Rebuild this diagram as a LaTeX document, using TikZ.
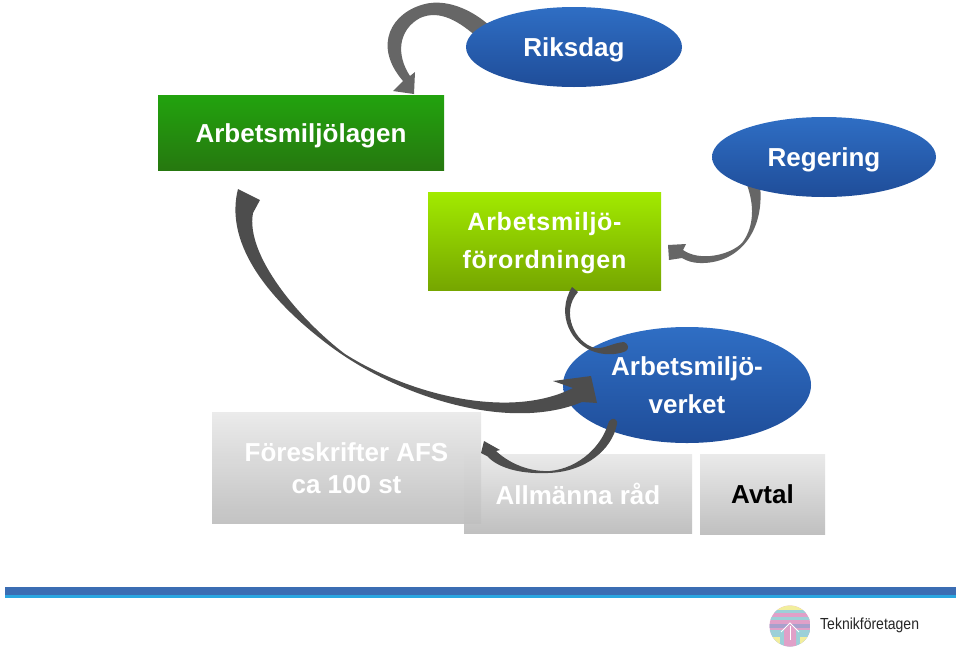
\documentclass[tikz,border=0pt]{standalone}
\usepackage{fontspec}
\setmainfont{Liberation Sans}
\usepackage{xcolor}
\usetikzlibrary{arrows.meta, positioning, shapes.geometric, calc}
\definecolor{arrowgray}{HTML}{666666}
\definecolor{arrowdark}{HTML}{4D4D4D}
\definecolor{ovaltop}{HTML}{2F6EC4}
\definecolor{ovalbottom}{HTML}{1F4D99}
\definecolor{graytop}{HTML}{EAEAEA}
\definecolor{graybottom}{HTML}{C0C0C0}
\definecolor{lagentop}{HTML}{22A30E}
\definecolor{lagenbottom}{HTML}{26780F}
\definecolor{fortop}{HTML}{A2EA00}
\definecolor{forbottom}{HTML}{76A600}
\definecolor{barblue}{HTML}{3B6DB3}
\definecolor{barlight}{HTML}{2BA6E0}
\definecolor{logopink}{HTML}{E0A0C8}
\definecolor{logoblue}{HTML}{9CD0D8}
\definecolor{logoyellow}{HTML}{F2EE9C}
\definecolor{logopurple}{HTML}{A8A0CC}

\begin{document}
\begin{tikzpicture}[
    x=1pt, y=-1pt,
    oval/.style={ellipse, inner sep=0pt, top color=ovaltop, bottom color=ovalbottom},
    greenbox/.style={rectangle, inner sep=0pt},
    graybox/.style={rectangle, inner sep=0pt, top color=graytop, bottom color=graybottom},
    lbl/.style={inner sep=0pt, align=center, text=white, font=\bfseries\fontsize{26}{32}\selectfont},
    crescent/.style={fill=arrowgray, draw=none},
    crescentdark/.style={fill=arrowdark, draw=none},
]

\useasboundingbox (0,0) rectangle (960,648);
\fill[white] (0,0) rectangle (960,648);

% ARROWS BEHIND THE OVALS
\coordinate (riksStart) at (490,26);
\coordinate (lagenTip) at (414,94);
\fill[crescent] (riksStart) .. controls (470,8) and (445,-1) .. (425,4)
    .. controls (392,12) and (372,45) .. (403,81)
    -- (393,91) -- (lagenTip) -- (415,72) -- (410,76)
    .. controls (396,55) and (398,30) .. (420,18)
    .. controls (440,9) and (460,22) .. (478,38) -- cycle;

\coordinate (regStart) at (747,185);
\coordinate (forTip) at (668,245);
\fill[crescent] (760,185) .. controls (765,232) and (738,264) .. (700,263)
    .. controls (693,263) and (687,261) .. (682,258)
    -- (669,260) -- (forTip) -- (686,244) -- (683,250)
    .. controls (700,262) and (730,255) .. (742,243)
    .. controls (752,230) and (756,210) .. (regStart) -- cycle;

% BOXES
\node[greenbox, top color=lagentop, bottom color=lagenbottom, minimum width=286pt, minimum height=75pt] (lagen) at (301,132.5) {};
\node[lbl] (lagentext) at (301,136) {Arbetsmiljölagen};
\node[greenbox, top color=fortop, bottom color=forbottom, minimum width=233pt, minimum height=98pt] (forordning) at (544.5,241) {};
\node[lbl, font=\bfseries\fontsize{25}{38}\selectfont] (fortext) at (544.5,243.5) {\addfontfeature{LetterSpace=3}Arbetsmiljö-\\\addfontfeature{LetterSpace=3}förordningen};

\node[graybox, minimum width=228pt, minimum height=79pt] (rad) at (578,493.5) {};
\node[graybox, minimum width=125pt, minimum height=80pt] (avtal) at (762.5,494) {};
\node[graybox, minimum width=269pt, minimum height=111pt, fill opacity=0.95] (afs) at (346.5,467.5) {};
\node[lbl] (afstext) at (346.5,468.5) {Föreskrifter AFS\\ca 100 st};
\node[lbl] (radtext) at (578,493.5) {Allmänna råd};
\node[lbl, text=black] (avtaltext) at (762.5,494) {Avtal};

% OVALS
\node[oval, minimum width=216pt, minimum height=80pt] (riksdag) at (574,47) {};
\node[lbl] (rikstext) at (574,49.5) {Riksdag};
\node[oval, minimum width=224pt, minimum height=80pt] (regering) at (824,157) {};
\node[lbl] (regtext) at (824,159.5) {Regering};
\node[oval, minimum width=248pt, minimum height=116pt] (verket) at (687,385) {};
\node[lbl, font=\bfseries\fontsize{26}{38}\selectfont] (verkettext) at (687,385) {Arbetsmiljö-\\verket};

% ARROWS IN FRONT
\coordinate (longStart) at (238,189);
\coordinate (verketTip) at (591,376);
\fill[crescentdark] (longStart) .. controls (225,240) and (262,295) .. (330,346)
    .. controls (400,398) and (510,432) .. (582,402)
    -- (597,403) -- (verketTip) -- (553,381) -- (573,388)
    .. controls (510,420) and (410,395) .. (345,354)
    .. controls (300,320) and (245,255) .. (253,213)
    -- (260,200) -- cycle;

\coordinate (forStart) at (572,287);
\coordinate (verketEnd) at (628,347);
\fill[crescentdark] (forStart) .. controls (555,315) and (572,345) .. (595,352)
    .. controls (607,356) and (620,354) .. (626,351)
    .. controls (629,349) and (629,344) .. (624,342)
    .. controls (612,343) and (605,349) .. (595,348)
    .. controls (575,343) and (560,312) .. (578,292) -- cycle;

\coordinate (verketStart) at (612,419);
\coordinate (afsTip) at (484,441);
\fill[crescentdark] (verketStart) .. controls (615,418) and (618,421) .. (617,424)
    .. controls (612,450) and (585,472) .. (548,473)
    .. controls (525,474) and (500,470) .. (487,456)
    -- (481,453) -- (afsTip) -- (500,450) -- (496,451)
    .. controls (510,464) and (530,472) .. (550,471)
    .. controls (580,468) and (602,445) .. (608,424)
    .. controls (608,422) and (610,420) .. (verketStart) -- cycle;

% BOTTOM BAR
\fill[barblue] (5,587) rectangle (956,595);
\fill[barlight] (5,595) rectangle (956,598);

% LOGO
\begin{scope}
    \clip (790,626) circle (20.5);
    \fill[logopink] (769,605) rectangle (811,647);
    \fill[logoyellow] (769,605) rectangle (811,609.5);
    \fill[logoblue] (769,609.5) rectangle (811,612.5);
    \fill[logoblue] (769,617) rectangle (811,619.5);
    \fill[logopurple] (769,624) rectangle (811,627.5);
    \fill[logoblue] (769,630) rectangle (811,647);
    \fill[logoyellow] (769,637) rectangle (780,647);
    \fill[logoyellow] (800,637) rectangle (811,647);
    \fill[logopink] (790,624) -- (784,630) -- (784,647) -- (796,647) -- (796,630) -- cycle;
    \draw[white, line width=0.8pt] (781,632) -- (790,623) -- (799,632);
    \draw[white, line width=0.5pt] (790,626) -- (790,640);
\end{scope}
\node[font=\fontsize{16}{18}\selectfont, anchor=west, inner sep=0pt, text=black!85] (teknik) at (820,625.5) {\scalebox{0.875}[1]{Teknikföretagen}};

\end{tikzpicture}
\end{document}
